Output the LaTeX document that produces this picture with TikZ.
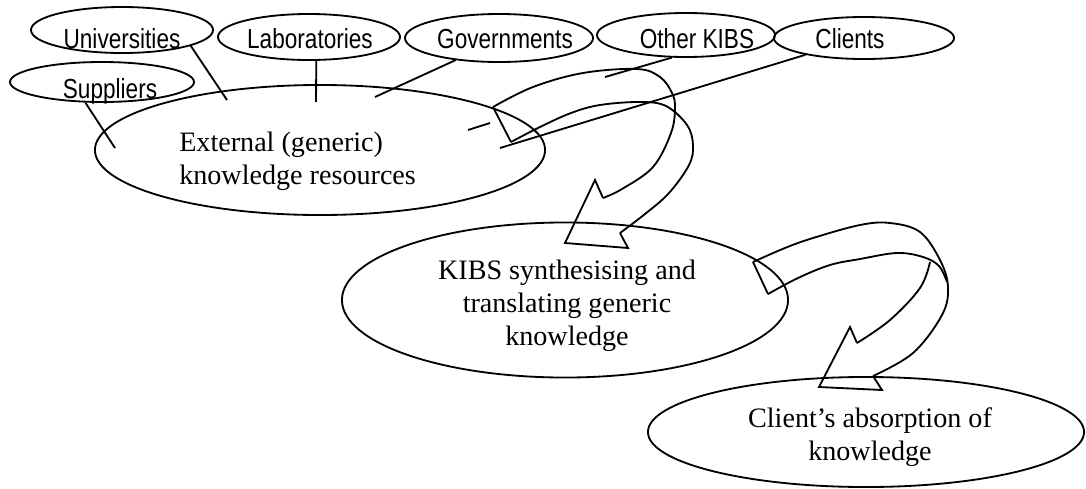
\documentclass[tikz,border=0pt]{standalone}
\usepackage{fontspec}
\setmainfont{Liberation Serif}
\newfontfamily\narrowsans[FakeStretch=0.82]{Liberation Sans}
\usetikzlibrary{shapes.geometric}

\tikzset{
  oval/.style={ellipse, draw, line width=1.3pt, inner sep=0pt},
  smalltext/.style={anchor=base, inner sep=0pt, font=\narrowsans\fontsize{19.6}{23}\selectfont},
  bigtext/.style={inner sep=0pt, font=\fontsize{20}{23.4}\selectfont},
  link/.style={line width=1.3pt},
  band/.style={line width=1.3pt, line join=miter}
}

\begin{document}
\begin{tikzpicture}[x=0.025cm, y=-0.025cm]
\useasboundingbox (0,0) rectangle (1086,488);

% Knowledge sources
\node[oval, minimum width=4.55cm, minimum height=1.15cm] (univ) at (122,30) {};
\node[oval, minimum width=4.55cm, minimum height=1.15cm] (labo) at (309,37) {};
\node[oval, minimum width=4.7cm, minimum height=1.2cm] (gov) at (499,38) {};
\node[oval, minimum width=4.45cm, minimum height=1.1cm] (other) at (686,35) {};
\node[oval, minimum width=4.5cm, minimum height=1.05cm] (cli) at (864,38) {};
\node[oval, minimum width=4.6cm, minimum height=1.0cm] (supp) at (102,82) {};

\node[smalltext] (univ-t) at (122,48) {Universities};
\node[smalltext] (labo-t) at (310,48) {Laboratories};
\node[smalltext] (gov-t) at (505,48) {Governments};
\node[smalltext] (other-t) at (697,48) {Other KIBS};
\node[smalltext] (cli-t) at (850,48) {Clients};
\node[smalltext] (supp-t) at (110,98) {Suppliers};

% Main ellipses
\node[oval, minimum width=11.25cm, minimum height=3.25cm] (ext) at (320,150) {};
\node[oval, minimum width=11.15cm, minimum height=3.875cm] (kibs) at (565,300) {};
\node[oval, minimum width=10.9cm, minimum height=2.75cm] (abs) at (866,432) {};

\node[bigtext, anchor=west, align=left] (ext-t) at (179,161) {External (generic)\\knowledge resources};
\node[bigtext, align=center] (kibs-t) at (567,306) {KIBS synthesising and\\translating generic\\knowledge};
\node[bigtext, align=center] (abs-t) at (870,437) {Client’s absorption of\\knowledge};

% Links into the external resources
\coordinate (univ-end) at (227,100);
\coordinate (labo-end) at (316,102);
\coordinate (gov-end) at (375,97);
\coordinate (other-end) at (605,77);
\coordinate (cli-end) at (500,148);
\coordinate (supp-end) at (115,148);
\coordinate (dash-a) at (468,130);
\coordinate (dash-b) at (490,123);

\draw[link] (univ.-13) -- (univ-end);
\draw[link] (labo.-73) -- (labo-end);
\draw[link] (gov.207) -- (gov-end);
\draw[link] (other.238) -- (other-end);
\draw[link] (cli.196) -- (cli-end);
\draw[link] (supp.231) -- (supp-end);
\draw[link] (dash-a) -- (dash-b);

% Curved arrow: external -> KIBS
\draw[band] (493,107) -- (511,142);
\draw[band] plot[smooth, tension=0.6] coordinates {(493,107) (533,87) (583,73) (637,69) (660,77) (672,93) (675,108) (671,133) (653,167) (622,189) (603,198)};
\draw[band] (603,198) -- (595,180) -- (565,243) -- (628,248) -- (620,233);
\draw[band] plot[smooth, tension=0.6] coordinates {(620,233) (645,214) (669,193) (689,165) (693,145) (687,125) (666,106) (640,102) (600,105) (571,113) (540,127) (511,142)};

% Curved arrow: KIBS -> client
\draw[band] (753,262) -- (768,294);
\draw[band] plot[smooth, tension=0.6] coordinates {(753,262) (785,248) (813,238) (860,225) (890,223) (920,232) (940,260) (948,287) (942,315) (913,353) (873,376)};
\draw[band] (873,376) -- (882,390) -- (819,387) -- (850,327) -- (857,343);
\draw[band] plot[smooth, tension=0.6] coordinates {(857,343) (890,320) (920,288) (930,262)};
\draw[band] plot[smooth, tension=0.6] coordinates {(768,294) (798,278) (830,265) (860,259) (897,253) (923,257) (939,266) (947,282)};

\end{tikzpicture}
\end{document}
